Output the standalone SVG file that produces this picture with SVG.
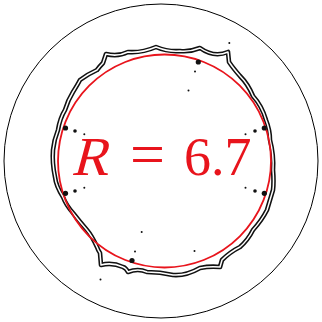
<svg xmlns="http://www.w3.org/2000/svg" width="322" height="322" viewBox="0 0 322 322">
<style>
.outer{fill:none;stroke:#000;stroke-width:1}
.red{fill:none;stroke:#e8141c;stroke-width:1.8}
.cb{fill:none;stroke:#111;stroke-width:4.6;stroke-linejoin:round}
.cw{fill:none;stroke:#fff;stroke-width:1.5;stroke-linejoin:round}
.lbl{fill:#e8141c}
</style>
<defs>
<path id="contour" d="M106,54 Q118,57 128,52 Q142,53 156,47 Q168,52 180,51 Q190,52 200,48 Q214,58 228,52 L229,62 Q233,68 240,76 Q248,84 253,96 Q262,106 266,120 Q270,130 270,140 Q274,155 273,170 Q274,182 273,190 Q270,200 267,210 Q262,220 253,230 Q248,240 240,247 Q230,252 222,260 L220,267 Q210,266 200,268 Q186,276 173,275 Q160,272 147,272 Q138,268 128,272 Q126,268 123,267 Q112,262 101,265 L100,253 Q98,250 97,247 Q92,236 87,230 Q80,222 73,213 Q66,205 63,197 Q56,186 55,177 Q52,163 53,150 Q54,140 58,130 Q60,118 65,110 Q68,100 73,92 Q78,84 80,80 Q88,74 97,70 Q100,66 103,63 Z"/>
</defs>
<rect width="322" height="322" fill="#fff"/>
<circle class="outer" cx="161" cy="161" r="157"/>
<g id="contour-shape">
<use href="#contour" class="cb"/>
<use href="#contour" class="cw"/>
</g>
<circle class="red" cx="164.5" cy="161" r="106.5"/>
<g id="dots" fill="#111">
<circle cx="198.3" cy="62" r="2.6"/>
<circle cx="195" cy="71.5" r="1"/>
<circle cx="188.5" cy="90.5" r="1"/>
<circle cx="229.3" cy="43" r="1"/>
<circle cx="65.5" cy="128" r="2.6"/>
<circle cx="75" cy="131" r="1.8"/>
<circle cx="84.3" cy="134.3" r="1"/>
<circle cx="264.3" cy="128" r="2.6"/>
<circle cx="255" cy="131" r="1.8"/>
<circle cx="245.5" cy="134.3" r="1"/>
<circle cx="65.5" cy="193.3" r="2.6"/>
<circle cx="75" cy="191" r="1.8"/>
<circle cx="84.3" cy="187.7" r="1"/>
<circle cx="264.3" cy="193.3" r="2.6"/>
<circle cx="255" cy="191" r="1.8"/>
<circle cx="245.5" cy="187.7" r="1"/>
<circle cx="132" cy="260.5" r="2.6"/>
<circle cx="135" cy="251.5" r="1"/>
<circle cx="141.7" cy="232" r="1"/>
<circle cx="194.5" cy="251" r="1"/>
<circle cx="100.5" cy="279.5" r="1"/>
</g>
<g id="label">
<text class="lbl" x="71" y="175" transform="matrix(1 0 -0.268 1 46.9 0)" style="font-family:'Liberation Serif',serif;font-size:55px">R</text>
<text class="lbl" x="147.5" y="175" text-anchor="middle" style="font-family:'Liberation Serif',serif;font-size:62px">=</text>
<text class="lbl" x="184" y="175" style="font-family:'Liberation Serif',serif;font-size:54px">6.7</text>
</g>
</svg>
